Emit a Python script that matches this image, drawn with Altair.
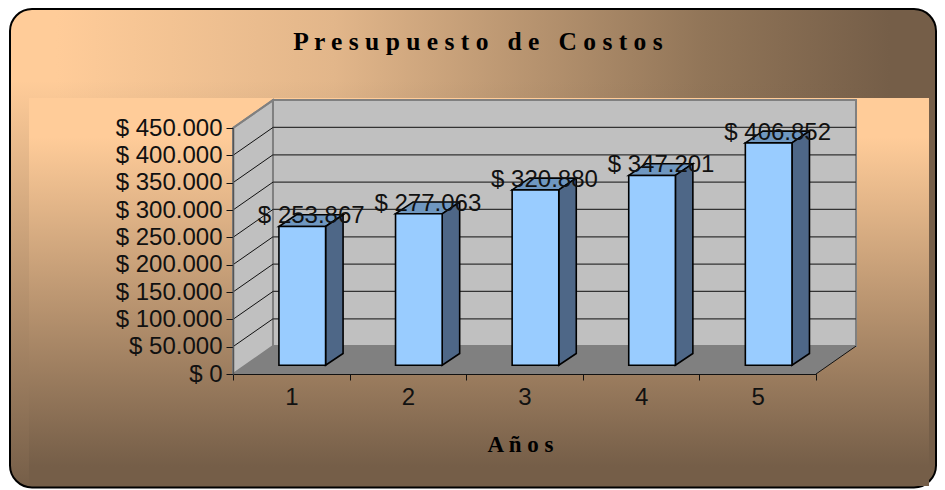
import altair as alt
import pandas as pd

# ---- data
years = [1, 2, 3, 4, 5]
costs = [253867, 277063, 320880, 347201, 406852]
y_ticks = [0, 50000, 100000, 150000, 200000, 250000, 300000, 350000, 400000, 450000]
x_ticks = [0.5, 1, 1.5, 2, 2.5, 3, 3.5, 4, 4.5, 5, 5.5]
title_text = "P r e s u p u e s t o\u00a0\u00a0\u00a0d e\u00a0\u00a0\u00a0C o s t o s"
x_title = "A ñ o s"

# ---- 3-D look, in data units
WALL_DX = 0.343      # wall depth along category axis
WALL_DY = 51000      # wall depth along value axis
BAR_SHIFT_X = 0.094  # bar position inside the depth
BAR_SHIFT_Y = 16000
BAR_HALF = 0.2
BAR_DX = 0.15
BAR_DY = 21500
X0, X1 = 0.5, 5.5
VMAX = 450000

PEACH = "#FFCC99"
BROWN = "#755E48"
FONT = "Liberation Sans"

x_scale = alt.Scale(domain=[X0, X1], nice=False, zero=False)
y_scale = alt.Scale(domain=[0, VMAX], nice=False, zero=False)

x_axis = alt.Axis(
    values=x_ticks, orient="bottom", grid=False, domainColor="#111111", domainWidth=1,
    tickColor="#111111", tickSize=6,
    tickOpacity={"condition": {"test": "datum.value % 1 != 0", "value": 1}, "value": 0},
    labelExpr="datum.value % 1 == 0 ? format(datum.value, 'd') : ''",
    labelFont=FONT, labelFontSize=24, labelColor="#111111", labelPadding=5, labelFlush=False,
    labelOverlap=False, labelBound=False, zindex=1,
    title=x_title, titleFont="Liberation Serif", titleFontSize=23, titleFontWeight="bold",
    titleColor="black", titleX=287, titleY=77, titleBaseline="alphabetic",
)
y_axis = alt.Axis(
    values=y_ticks, orient="left", grid=False, domainColor="#555555", domainWidth=1.5,
    tickColor="#111111", tickSize=7,
    labelExpr="'$ ' + replace(format(datum.value, ',d'), /,/g, '.')",
    labelFont=FONT, labelFontSize=24, labelColor="#111111", labelPadding=4,
    labelOverlap=False, labelBound=False, zindex=1, title=None,
)


def X(f="x"):
    return alt.X(f"{f}:Q", scale=x_scale, axis=x_axis)


def Y(f="y"):
    return alt.Y(f"{f}:Q", scale=y_scale, axis=y_axis)


one = alt.Data(values=[{"a": 1}])


def grad(stops, horizontal=False):
    return alt.Gradient(
        gradient="linear",
        stops=[alt.GradientStop(offset=o, color=c) for o, c in stops],
        x1=0, y1=0, x2=1 if horizontal else 0, y2=0 if horizontal else 1,
    )


panel_enc = dict(x=alt.value(-223), x2=alt.value(703), y=alt.value(-119), y2=alt.value(359.5))
panel = alt.Chart(one).mark_rect(
    cornerRadius=22,
    fill=grad([(0, PEACH), (0.05, PEACH), (0.35, "#E2B68A"), (0.75, "#917558"), (0.95, BROWN), (1, BROWN)], True),
).encode(**panel_enc)
panel_shade = alt.Chart(one).mark_rect(
    cornerRadius=22,
    fill=grad([(0, "rgba(117,94,72,0)"), (0.15, "rgba(117,94,72,0)"), (1, "rgba(117,94,72,1)")]),
    stroke="black", strokeWidth=2,
).encode(**panel_enc)
inner = alt.Chart(one).mark_rect(
    fill=grad([(0, PEACH), (0.1, PEACH), (0.95, BROWN), (1, BROWN)]),
).encode(x=alt.value(-204), x2=alt.value(696), y=alt.value(-30), y2=alt.value(358))

title_mark = alt.Chart(one).mark_text(
    text=title_text, font="Liberation Serif", fontSize=25.5, fontWeight="bold", color="black",
    align="center", baseline="alphabetic",
).encode(x=alt.value(245), y=alt.value(-78))

# walls and floor
side_df = pd.DataFrame({"x": [X0, X0 + WALL_DX], "y": [VMAX, VMAX + WALL_DY], "y2": [0, WALL_DY]})
side = alt.Chart(side_df).mark_area(color="#C0C0C0", stroke="#808080", strokeWidth=2).encode(
    x=X(), y=Y(), y2="y2:Q")
back_df = pd.DataFrame({"x": [X0 + WALL_DX], "x2": [X1 + WALL_DX], "y": [WALL_DY], "y2": [VMAX + WALL_DY]})
back = alt.Chart(back_df).mark_rect(color="#C0C0C0", stroke="#808080", strokeWidth=2).encode(
    x=X(), x2="x2:Q", y=Y(), y2="y2:Q")
floor_df = pd.DataFrame({"y": [0, WALL_DY], "x": [X0, X0 + WALL_DX], "x2": [X1, X1 + WALL_DX]})
floor = alt.Chart(floor_df).mark_area(color="#808080", orient="horizontal").encode(
    y=Y(), x=X(), x2="x2:Q")

# grid lines
grid_vals = [v for v in y_ticks if 0 < v < VMAX]
diag_df = pd.DataFrame({"x": X0, "x2": X0 + WALL_DX, "y": grid_vals,
                        "y2": [v + WALL_DY for v in grid_vals]})
diag = alt.Chart(diag_df).mark_rule(color="#111111", strokeWidth=1).encode(
    x=X(), x2="x2:Q", y=Y(), y2="y2:Q")
back_vals = [v + WALL_DY for v in grid_vals]
horiz_df = pd.DataFrame({"x": X0 + WALL_DX, "x2": X1 + WALL_DX, "y": back_vals})
horiz = alt.Chart(horiz_df).mark_rule(color="#333333", strokeWidth=1.3).encode(
    x=X(), x2="x2:Q", y=Y())
edge_df = pd.DataFrame({"x": [X0, X1], "x2": [X0 + WALL_DX, X1 + WALL_DX], "y": [VMAX, 0],
                        "y2": [VMAX + WALL_DY, WALL_DY]})
edge = alt.Chart(edge_df).mark_rule(color="#808080", strokeWidth=2).transform_filter("datum.y > 0").encode(
    x=X(), x2="x2:Q", y=Y(), y2="y2:Q")
edge2 = alt.Chart(edge_df).mark_rule(color="#111111", strokeWidth=1).transform_filter("datum.y == 0").encode(
    x=X(), x2="x2:Q", y=Y(), y2="y2:Q")

# bars
fronts, sides, tops = [], [], []
for c, v in zip(years, costs):
    l = c + BAR_SHIFT_X - BAR_HALF
    r = c + BAR_SHIFT_X + BAR_HALF
    t = v + BAR_SHIFT_Y
    b = BAR_SHIFT_Y
    fronts.append({"c": c, "x": l, "x2": r, "y": b, "y2": t})
    sides.append({"c": c, "x": r, "y": t, "y2": b})
    sides.append({"c": c, "x": r + BAR_DX, "y": t + BAR_DY, "y2": b + BAR_DY})
    tops.append({"c": c, "y": t, "x": l, "x2": r})
    tops.append({"c": c, "y": t + BAR_DY, "x": l + BAR_DX, "x2": r + BAR_DX})

bar_tops = alt.Chart(pd.DataFrame(tops)).mark_area(
    color="#6F97C0", stroke="black", strokeWidth=1.6, orient="horizontal", strokeJoin="miter"
).encode(y=Y(), x=X(), x2="x2:Q", detail="c:N")
bar_sides = alt.Chart(pd.DataFrame(sides)).mark_area(
    color="#4E6787", stroke="black", strokeWidth=1.6, strokeJoin="miter"
).encode(x=X(), y=Y(), y2="y2:Q", detail="c:N")
bar_fronts = alt.Chart(pd.DataFrame(fronts)).mark_rect(
    color="#99CCFF", stroke="black", strokeWidth=1.6
).encode(x=X(), x2="x2:Q", y=Y(), y2="y2:Q")

# value labels
labels = pd.DataFrame({
    "x": [c + BAR_SHIFT_X for c in years],
    "y": [v + BAR_SHIFT_Y for v in costs],
    "t": ["$ " + f"{v:,}".replace(",", ".") for v in costs],
})
value_text = alt.Chart(labels).mark_text(
    font=FONT, fontSize=24, color="#111111", dx=9, dy=-10, baseline="middle", align="center"
).encode(x=X(), y=Y(), text="t:N")

chart = alt.layer(
    panel, panel_shade, inner, title_mark, side, back, floor, diag, horiz, edge, edge2,
    bar_tops, bar_sides, bar_fronts, value_text,
).properties(
    width=583, height=246,
    padding={"left": 225, "top": 120, "right": 121, "bottom": 115},
    autosize=alt.AutoSizeParams(type="none"),
).configure_view(stroke=None)

chart.save("out.html", embed_options={"renderer": "svg", "actions": False})
